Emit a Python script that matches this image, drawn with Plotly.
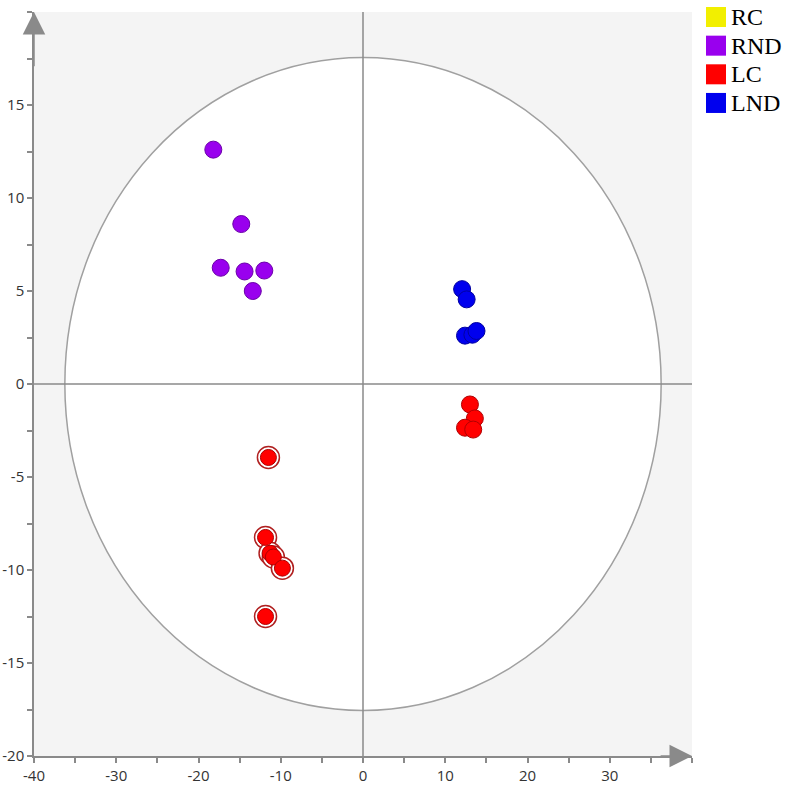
import plotly.graph_objects as go

# score plot values (t[1] on x, t[2] on y)
rnd_x = [-18.2, -14.8, -17.3, -14.4, -12.0, -13.4]
rnd_y = [12.6, 8.6, 6.25, 6.05, 6.1, 5.0]

lnd_x = [12.05, 12.6, 12.4, 13.3, 13.8]
lnd_y = [5.1, 4.55, 2.6, 2.65, 2.85]

lc_x = [13.0, 13.6, 12.4, 13.4]
lc_y = [-1.1, -1.85, -2.35, -2.45]

# red points drawn with a double ring
lc_ring_x = [-11.5, -11.85, -11.3, -10.9, -9.8, -11.85]
lc_ring_y = [-3.95, -8.25, -9.1, -9.3, -9.9, -12.5]

groups = ['RC', 'RND', 'LC', 'LND']
group_colors = {'RC': '#f2ef00', 'RND': '#9900ee', 'LC': '#ff0000', 'LND': '#0000ee'}

# Hotelling ellipse radii
ell_rx = 36.25
ell_ry = 17.55

x_ticks = [-40, -30, -20, -10, 0, 10, 20, 30]
y_ticks = [-20, -15, -10, -5, 0, 5, 10, 15]
# plain hyphen minus like the original software
x_labels = [str(v) for v in x_ticks]
y_labels = [str(v) for v in y_ticks]

axis_grey = '#8a8a8a'

fig = go.Figure()

# ellipse + crosshair
fig.add_shape(type='circle', xref='x', yref='y', x0=-ell_rx, x1=ell_rx, y0=-ell_ry, y1=ell_ry,
              fillcolor='white', line=dict(color='#a0a0a0', width=1.5), layer='below')
fig.add_shape(type='line', xref='x', yref='y', x0=0, x1=0, y0=-20, y1=20,
              line=dict(color=axis_grey, width=1.5), layer='below')
fig.add_shape(type='line', xref='x', yref='y', x0=-40, x1=40, y0=0, y1=0,
              line=dict(color=axis_grey, width=1.5), layer='below')

fig.add_trace(go.Scatter(x=rnd_x, y=rnd_y, mode='markers', name='RND', showlegend=False,
                         marker=dict(size=17, color='#9900ee', line=dict(color='#6a00a8', width=1))))
fig.add_trace(go.Scatter(x=lnd_x, y=lnd_y, mode='markers', name='LND', showlegend=False,
                         marker=dict(size=17, color='#0000ee', line=dict(color='#0000a0', width=1))))
fig.add_trace(go.Scatter(x=lc_x, y=lc_y, mode='markers', name='LC', showlegend=False,
                         marker=dict(size=17, color='#ff0000', line=dict(color='#b00000', width=1))))
# outer ring then filled dot
fig.add_trace(go.Scatter(x=lc_ring_x, y=lc_ring_y, mode='markers', showlegend=False,
                         marker=dict(size=22, color='white', line=dict(color='#b02020', width=1.5))))
fig.add_trace(go.Scatter(x=lc_ring_x, y=lc_ring_y, mode='markers', showlegend=False,
                         marker=dict(size=16, color='#ff0000', line=dict(color='#b00000', width=1))))

# legend drawn by hand (squares + labels) to match the original spacing
for i, g in enumerate(groups):
    top = 1.0067 - i * 0.0385
    fig.add_shape(type='rect', xref='paper', yref='paper', x0=1.0213, x1=1.0517,
                  y0=top - 0.0269, y1=top, fillcolor=group_colors[g], line=dict(width=0))
    fig.add_annotation(x=1.056, y=top - 0.0135, xref='paper', yref='paper', text=g,
                       showarrow=False, xanchor='left', yanchor='middle',
                       font=dict(family='Liberation Serif, serif', size=24, color='black'))

# axis arrows
fig.add_annotation(x=40, y=-20, ax=36, ay=-20, xref='x', yref='y', axref='x', ayref='y',
                   showarrow=True, arrowhead=2, arrowsize=3, arrowwidth=1.5, arrowcolor=axis_grey, text='')
fig.add_annotation(x=-40, y=20, ax=-40, ay=17, xref='x', yref='y', axref='x', ayref='y',
                   showarrow=True, arrowhead=2, arrowsize=3, arrowwidth=1.5, arrowcolor=axis_grey, text='')

fig.update_layout(
    width=786, height=787,
    paper_bgcolor='white', plot_bgcolor='#f4f4f4',
    margin=dict(l=34, r=94, t=12, b=31, autoexpand=False),
    font=dict(family='Open Sans, sans-serif', size=15, color='#333333'),
    showlegend=False,
    xaxis=dict(range=[-40, 40], tickvals=x_ticks, ticktext=x_labels, showgrid=False, zeroline=False,
               automargin=False, showline=True, linecolor=axis_grey, linewidth=1.5,
               ticks='outside', ticklen=5, tickcolor=axis_grey, tickwidth=1.5,
               minor=dict(dtick=5, tick0=0, ticks='outside', ticklen=5, tickcolor=axis_grey, tickwidth=1.5)),
    yaxis=dict(range=[-20, 20], tickvals=y_ticks, ticktext=y_labels, showgrid=False, zeroline=False,
               automargin=False, showline=True, linecolor=axis_grey, linewidth=1.5,
               ticks='outside', ticklen=5, tickcolor=axis_grey, tickwidth=1.5,
               minor=dict(dtick=2.5, tick0=0, ticks='outside', ticklen=5, tickcolor=axis_grey, tickwidth=1.5)),
)

# drop the default 8px page margin so the figure fills the window
fig.write_html("out.html", config={'displayModeBar': False},
               post_script="document.body.style.margin='0px';")
